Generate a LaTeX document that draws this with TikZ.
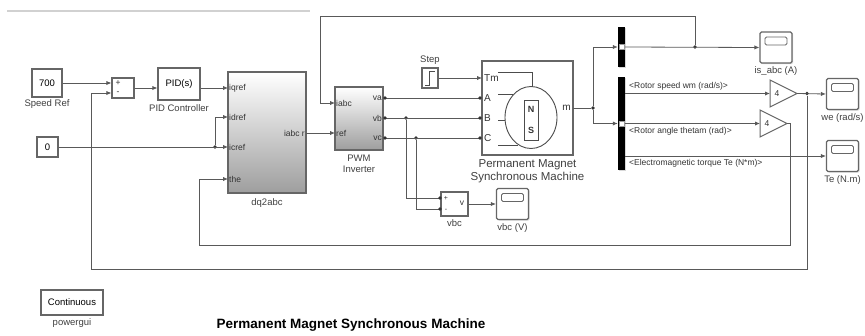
\documentclass[tikz,border=0pt]{standalone}
\usepackage{fontspec}
\setmainfont{Liberation Sans}
\usetikzlibrary{arrows.meta,shadows,positioning}

\begin{document}
\begin{tikzpicture}[x=1pt,y=-1pt,
  blk/.style={draw=black!60,line width=1.1pt,fill=white,inner sep=0pt,
    drop shadow={shadow xshift=1.2pt,shadow yshift=-1.2pt,fill=black!30},
    font=\fontsize{9.5}{10}\selectfont},
  sub/.style={blk,top color=white,bottom color=black!38},
  lbl/.style={inner sep=0pt,font=\fontsize{9.5}{11}\selectfont,text=black!75},
  port/.style={inner sep=1pt,font=\fontsize{8.5}{9}\selectfont,text=black!80},
  sig/.style={draw=black!65,line width=0.8pt,-{Latex[length=5pt,width=4.2pt]}},
  wire/.style={draw=black!65,line width=0.8pt},
  dot/.style={circle,fill=black!80,inner sep=0pt,minimum size=3.6pt},
  scp/.style={blk,rounded corners=1.5pt,minimum width=32pt,minimum height=31pt,
    path picture={\draw[black!60,line width=0.9pt]
      ([xshift=5pt,yshift=-5pt]path picture bounding box.north west) rectangle
      ([xshift=-5pt,yshift=-13pt]path picture bounding box.north east);}},
  bar/.style={fill=black,inner sep=0pt,minimum width=7pt,
    drop shadow={shadow xshift=1pt,shadow yshift=-1pt,fill=black!30}}
]
\useasboundingbox (0,0) rectangle (865,335);

% rule at the top
\draw[black!18,line width=1.2pt] (7,11) -- (310,11);

% sources and controller
\node[blk,minimum width=30pt,minimum height=28pt] (sref) at (47,83) {700};
\node[lbl,below=2pt of sref] (srefl) {Speed Ref};
\node[blk,minimum width=21pt,minimum height=20pt] (zero) at (47.5,147) {0};
\node[blk,minimum width=22pt,minimum height=20pt] (sum) at (123,88) {};
\node[port] (sump) at (118,83) {+};
\node[port] (summ) at (118,93) {-};
\node[blk,minimum width=42pt,minimum height=32pt] (pid) at (179,84) {PID(s)};
\node[lbl,below=4pt of pid] (pidl) {PID Controller};

% dq2abc
\node[sub,minimum width=78pt,minimum height=121pt] (dq) at (267,132.5) {};
\node[lbl,below=5pt of dq] (dql) {dq2abc};
\coordinate (dq-iq) at (228,88);
\coordinate (dq-id) at (228,117);
\coordinate (dq-ic) at (228,147);
\coordinate (dq-th) at (228,179);
\coordinate (dq-o) at (306,133);
\node[port,right] (dqp1) at (dq-iq) {iqref};
\node[port,right] (dqp2) at (dq-id) {idref};
\node[port,right] (dqp3) at (dq-ic) {icref};
\node[port,right] (dqp4) at (dq-th) {the};
\node[port,left] (dqp5) at (dq-o) {iabc r};

% PWM inverter
\node[sub,minimum width=48pt,minimum height=63pt] (pwm) at (359,118.5) {};
\node[lbl,below=4pt of pwm,align=center] (pwml) {PWM\\Inverter};
\coordinate (pwm-i) at (335,103);
\coordinate (pwm-r) at (335,133);
\coordinate (pwm-a) at (385,98);
\coordinate (pwm-b) at (385,118);
\coordinate (pwm-c) at (385,138);
\node[port,right] (pwmp1) at (pwm-i) {iabc};
\node[port,right] (pwmp2) at (pwm-r) {ref};
\node[port,left] (pwmp3) at (383,98) {va};
\node[port,left] (pwmp4) at (383,118) {vb};
\node[port,left] (pwmp5) at (383,138) {vc};

% step
\node[blk,minimum width=16pt,minimum height=20pt] (step) at (430,78) {};
\node[lbl,above=3pt of step] (stepl) {Step};
\draw[black!70,line width=0.8pt] (425,85) -- (429,85) -- (429,71) -- (435,71);

% machine
\node[blk,minimum width=91pt,minimum height=94pt] (pmsm) at (527.5,108) {};
\node[lbl,below=4pt of pmsm,align=center,font=\fontsize{11.5}{13}\selectfont] (pmsml)
  {Permanent Magnet\\Synchronous Machine};
\coordinate (pm-tm) at (482,78);
\coordinate (pm-a) at (480,98);
\coordinate (pm-b) at (480,118);
\coordinate (pm-c) at (480,138);
\coordinate (pm-m) at (573,108);
\node[port,right,font=\fontsize{10}{11}\selectfont] (pmp1) at (483,78) {Tm};
\node[port,right,font=\fontsize{10}{11}\selectfont] (pmp2) at (483,98) {A};
\node[port,right,font=\fontsize{10}{11}\selectfont] (pmp3) at (483,118) {B};
\node[port,right,font=\fontsize{10}{11}\selectfont] (pmp4) at (483,138) {C};
\node[port,left,font=\fontsize{10}{11}\selectfont] (pmp5) at (572,108) {m};
\draw[black!70,line width=0.9pt] (531,117.5) ellipse (26 and 31);
\draw[black!70,line width=0.9pt] (524,100) rectangle (538,140);
\node[port,font=\fontsize{9}{10}\bfseries] (pmn) at (531,109) {N};
\node[port,font=\fontsize{9}{10}\bfseries] (pms) at (531,130) {S};
\draw[black!70,line width=0.8pt] (498,72) -- (532,72) -- (532,86.5);
\draw[black!70,line width=0.8pt] (498,94) -- (513,94);
\draw[black!70,line width=0.8pt] (498,120) -- (505,120);
\draw[black!70,line width=0.8pt] (498,145) -- (518,145);

% vbc measurement
\node[blk,minimum width=27pt,minimum height=24pt] (vbc) at (454.5,204) {};
\node[lbl,below=3pt of vbc] (vbcl) {vbc};
\node[port,font=\fontsize{7}{8}\selectfont] (vbcp) at (446,198) {+};
\node[port,font=\fontsize{7}{8}\selectfont] (vbcm) at (446,210) {-};
\node[port] (vbcv) at (462,203) {v};
\coordinate (vbc-p) at (440,198);
\coordinate (vbc-m) at (440,209);
\node[scp] (svbc) at (512.5,204) {};
\node[lbl,below=3pt of svbc] (svbcl) {vbc (V)};

% bus selectors
\node[bar,minimum height=40pt] (bar1) at (621.5,47) {};
\node[bar,minimum height=93pt] (bar2) at (621.5,123.5) {};
\draw[fill=white,draw=black!40,line width=0.4pt] (619,44.5) rectangle (624,49.5);
\draw[fill=white,draw=black!40,line width=0.4pt] (619,121.5) rectangle (624,126.5);

% scopes and gains
\node[scp] (sis) at (776,47.5) {};
\node[lbl,below=3pt of sis] (sisl) {is\_abc (A)};
\node[scp] (swe) at (842.5,94) {};
\node[lbl,below=3pt of swe] (swel) {we (rad/s)};
\node[scp] (ste) at (842.5,156) {};
\node[lbl,below=3pt of ste] (stel) {Te (N.m)};
\draw[black!60,line width=1pt,fill=white] (770,80) -- (797,93.5) -- (770,107) -- cycle;
\node[port] (g1) at (777,93.5) {4};
\draw[black!60,line width=1pt,fill=white] (760,110) -- (787,123.5) -- (760,137) -- cycle;
\node[port] (g2) at (767,123.5) {4};
\coordinate (g1-i) at (770,93.5);
\coordinate (g1-o) at (797,93.5);
\coordinate (g2-i) at (760,123.5);
\coordinate (g2-o) at (787,123.5);

% powergui and title
\node[blk,minimum width=62pt,minimum height=25pt] (pgui) at (72,302.5) {Continuous};
\node[lbl,below=3pt of pgui] (pguil) {powergui};
\node[inner sep=0pt,font=\fontsize{13.5}{15}\bfseries\selectfont] (title) at (351,325)
  {Permanent Magnet Synchronous Machine};

% junctions
\node[dot] (j1) at (215,147) {};
\node[dot] (j2) at (406,118) {};
\node[dot] (j3) at (416,138) {};
\node[dot] (j4) at (593,108) {};
\node[dot] (j5) at (695,47) {};
\node[dot] (j6) at (807,93.5) {};

% signals
\draw[sig] (sref.east |- sump) -- (sum.west |- sump);
\draw[sig] (sum.east) -- (sum.east -| pid.west);
\draw[sig] (pid.east |- dq-iq) -- (dq-iq);
\draw[sig] (zero.east) -- (dq-ic);
\draw[sig] (j1) |- (dq-id);
\draw[sig] (j6) -- (807,269) -- (91,269) |- (sum.west |- summ);
\draw[sig] (g2-o) -- (790,123.5) -- (790,245) -- (199,245) |- (dq-th);
\draw[sig] (dq-o) -- (pwm-r);
\draw[sig] (j5) -- (695,16) -- (320,16) |- (pwm-i);
\draw[sig] (step.east) -- (pm-tm);
\draw[sig] (vbc.east) -- (svbc.west);
\draw[wire] (pm-m) -- (j4);
\draw[sig] (j4) |- (bar1.west);
\draw[sig] (j4) |- (bar2.west);
\draw[sig] (bar1.east) -- (sis.west);
\draw[sig] (bar2.east |- g1-i) -- (g1-i);
\draw[sig] (g1-o) -- (swe.west);
\draw[sig] (bar2.east |- g2-i) -- (g2-i);
\draw[sig] (bar2.east |- ste) -- (ste.west);

% electrical connections
\draw[wire] (pwm-a) -- (pm-a);
\draw[wire] (pwm-b) -- (pm-b);
\draw[wire] (pwm-c) -- (pm-c);
\draw[wire] (j2) |- (vbc-p);
\draw[wire] (j3) |- (vbc-m);
\foreach \p in {pwm-a,pwm-b,pwm-c,pm-a,pm-b,pm-c,vbc-p,vbc-m}
  \fill[black!80] (\p) circle (1.8);

% bus signal names
\node[port,anchor=south west] (n1) at (628,91) {<Rotor speed wm (rad/s)>};
\node[port,anchor=north west] (n2) at (628,126) {<Rotor angle thetam (rad)>};
\node[port,anchor=north west] (n3) at (628,158) {<Electromagnetic torque Te (N*m)>};

\end{tikzpicture}
\end{document}
